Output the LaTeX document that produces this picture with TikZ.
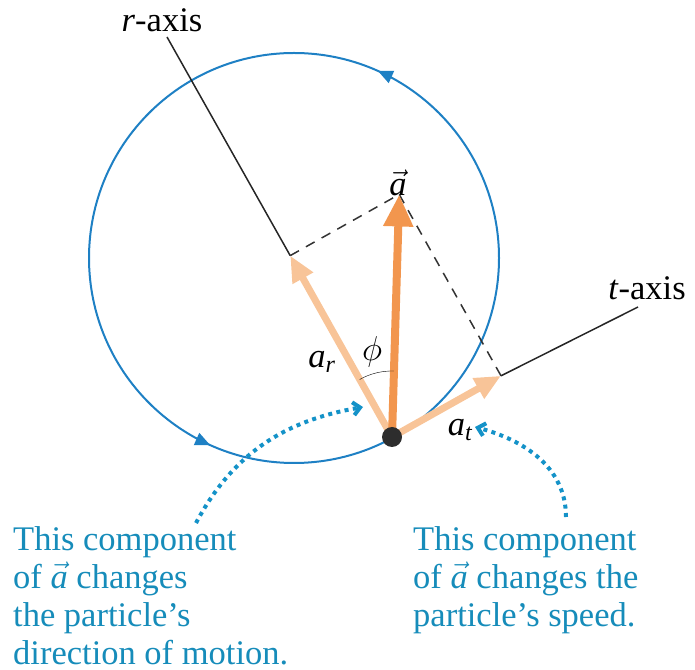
\RequirePackage{fix-cm}
\documentclass[tikz,border=0pt]{standalone}
\usepackage{amsmath}
\usepackage{fontspec}
\setmainfont{Liberation Serif}
\usepackage{tikz}
\usetikzlibrary{arrows.meta,calc,positioning,decorations.markings}
\definecolor{orbitblue}{RGB}{30,128,196}
\definecolor{noteblue}{RGB}{22,140,186}
\definecolor{hintblue}{RGB}{20,146,200}
\definecolor{accorange}{RGB}{242,150,78}
\definecolor{comporange}{RGB}{248,196,152}
\definecolor{dotgray}{RGB}{45,45,45}

\begin{document}
\begin{tikzpicture}[x=1pt,y=1pt,>=latex,
    font=\fontsize{34.5}{38}\selectfont,
    orbit/.style={draw=orbitblue, line width=2pt,
      decoration={markings,
        mark=at position 0.183 with {\arrow{Triangle[length=15pt,width=13pt]}},
        mark=at position 0.683 with {\arrow{Triangle[length=15pt,width=13pt]}}},
      postaction={decorate}},
    axisline/.style={draw=black!85, line width=1.5pt},
    helpline/.style={draw=black!80, line width=1.5pt, dash pattern=on 10pt off 8pt},
    comp/.style={draw=comporange, line width=7pt, -{Triangle[length=26pt,width=22pt]}},
    acc/.style={draw=accorange, line width=8pt, -{Triangle[length=32pt,width=28pt]}},
    hint/.style={draw=hintblue, line width=4pt, dash pattern=on 4pt off 4.4pt,
      -{Straight Barb[length=7pt,width=13pt]}},
    note/.style={text=noteblue, align=left, inner sep=0pt, anchor=north west}
    ]
\useasboundingbox (0,0) rectangle (695,669);
% geometry
\coordinate (O) at (294,411);
\coordinate (P) at (392,232);
\coordinate (R) at ($(P)+(119.3:208)$);
\coordinate (T) at ($(P)+(29.3:125)$);
\coordinate (A) at ($(R)+(T)-(P)$);
\coordinate (rend) at (167,632);
\coordinate (tend) at (638,362);
% path of the particle
\draw[orbit] (O) ++(0:205) arc[start angle=0, end angle=360, radius=205];
% axes and construction lines
\draw[axisline] (R) -- (rend);
\draw[axisline] (T) -- (tend);
\draw[helpline] (R) -- (A);
\draw[helpline] (A) -- (T);
% components and acceleration
\draw[comp] (P) -- (R);
\draw[comp] (P) -- (T);
\draw[acc] (P) -- (A);
\draw[thin] (P) ++(119.3:66) arc[start angle=119.3, end angle=88.3, radius=66];
\node[circle, fill=dotgray, minimum size=20pt, inner sep=0pt] (part) at (P) {};
% labels
\node (rlab) at (162,649) {\textit{r}-axis};
\node (tlab) at (647,381) {\textit{t}-axis};
\node (alab) at (398,486) {$\vec{\textit{a}}$};
\node (arlab) at (322,307) {$\textit{a}_{\textit{r}}$};
\node (philab) at (372,317) {$\phi$};
\node (atlab) at (460,239) {$\textit{a}_{\textit{t}}$};
% notes
\node[note] (leftnote) at (13,143) {This component\\of $\vec{\textit{a}}$ changes\\the particle’s\\direction of motion.};
\node[note] (rightnote) at (413,143) {This component\\of $\vec{\textit{a}}$ changes the\\particle’s speed.};
\coordinate (lstart) at (196,146);
\coordinate (lend) at (363,262);
\coordinate (rstart) at (566,152);
\coordinate (rend2) at (475,242);
\draw[hint] (lstart) to[out=62,in=190] (lend);
\draw[hint] (rstart) to[out=90,in=-15] (rend2);
\end{tikzpicture}
\end{document}
